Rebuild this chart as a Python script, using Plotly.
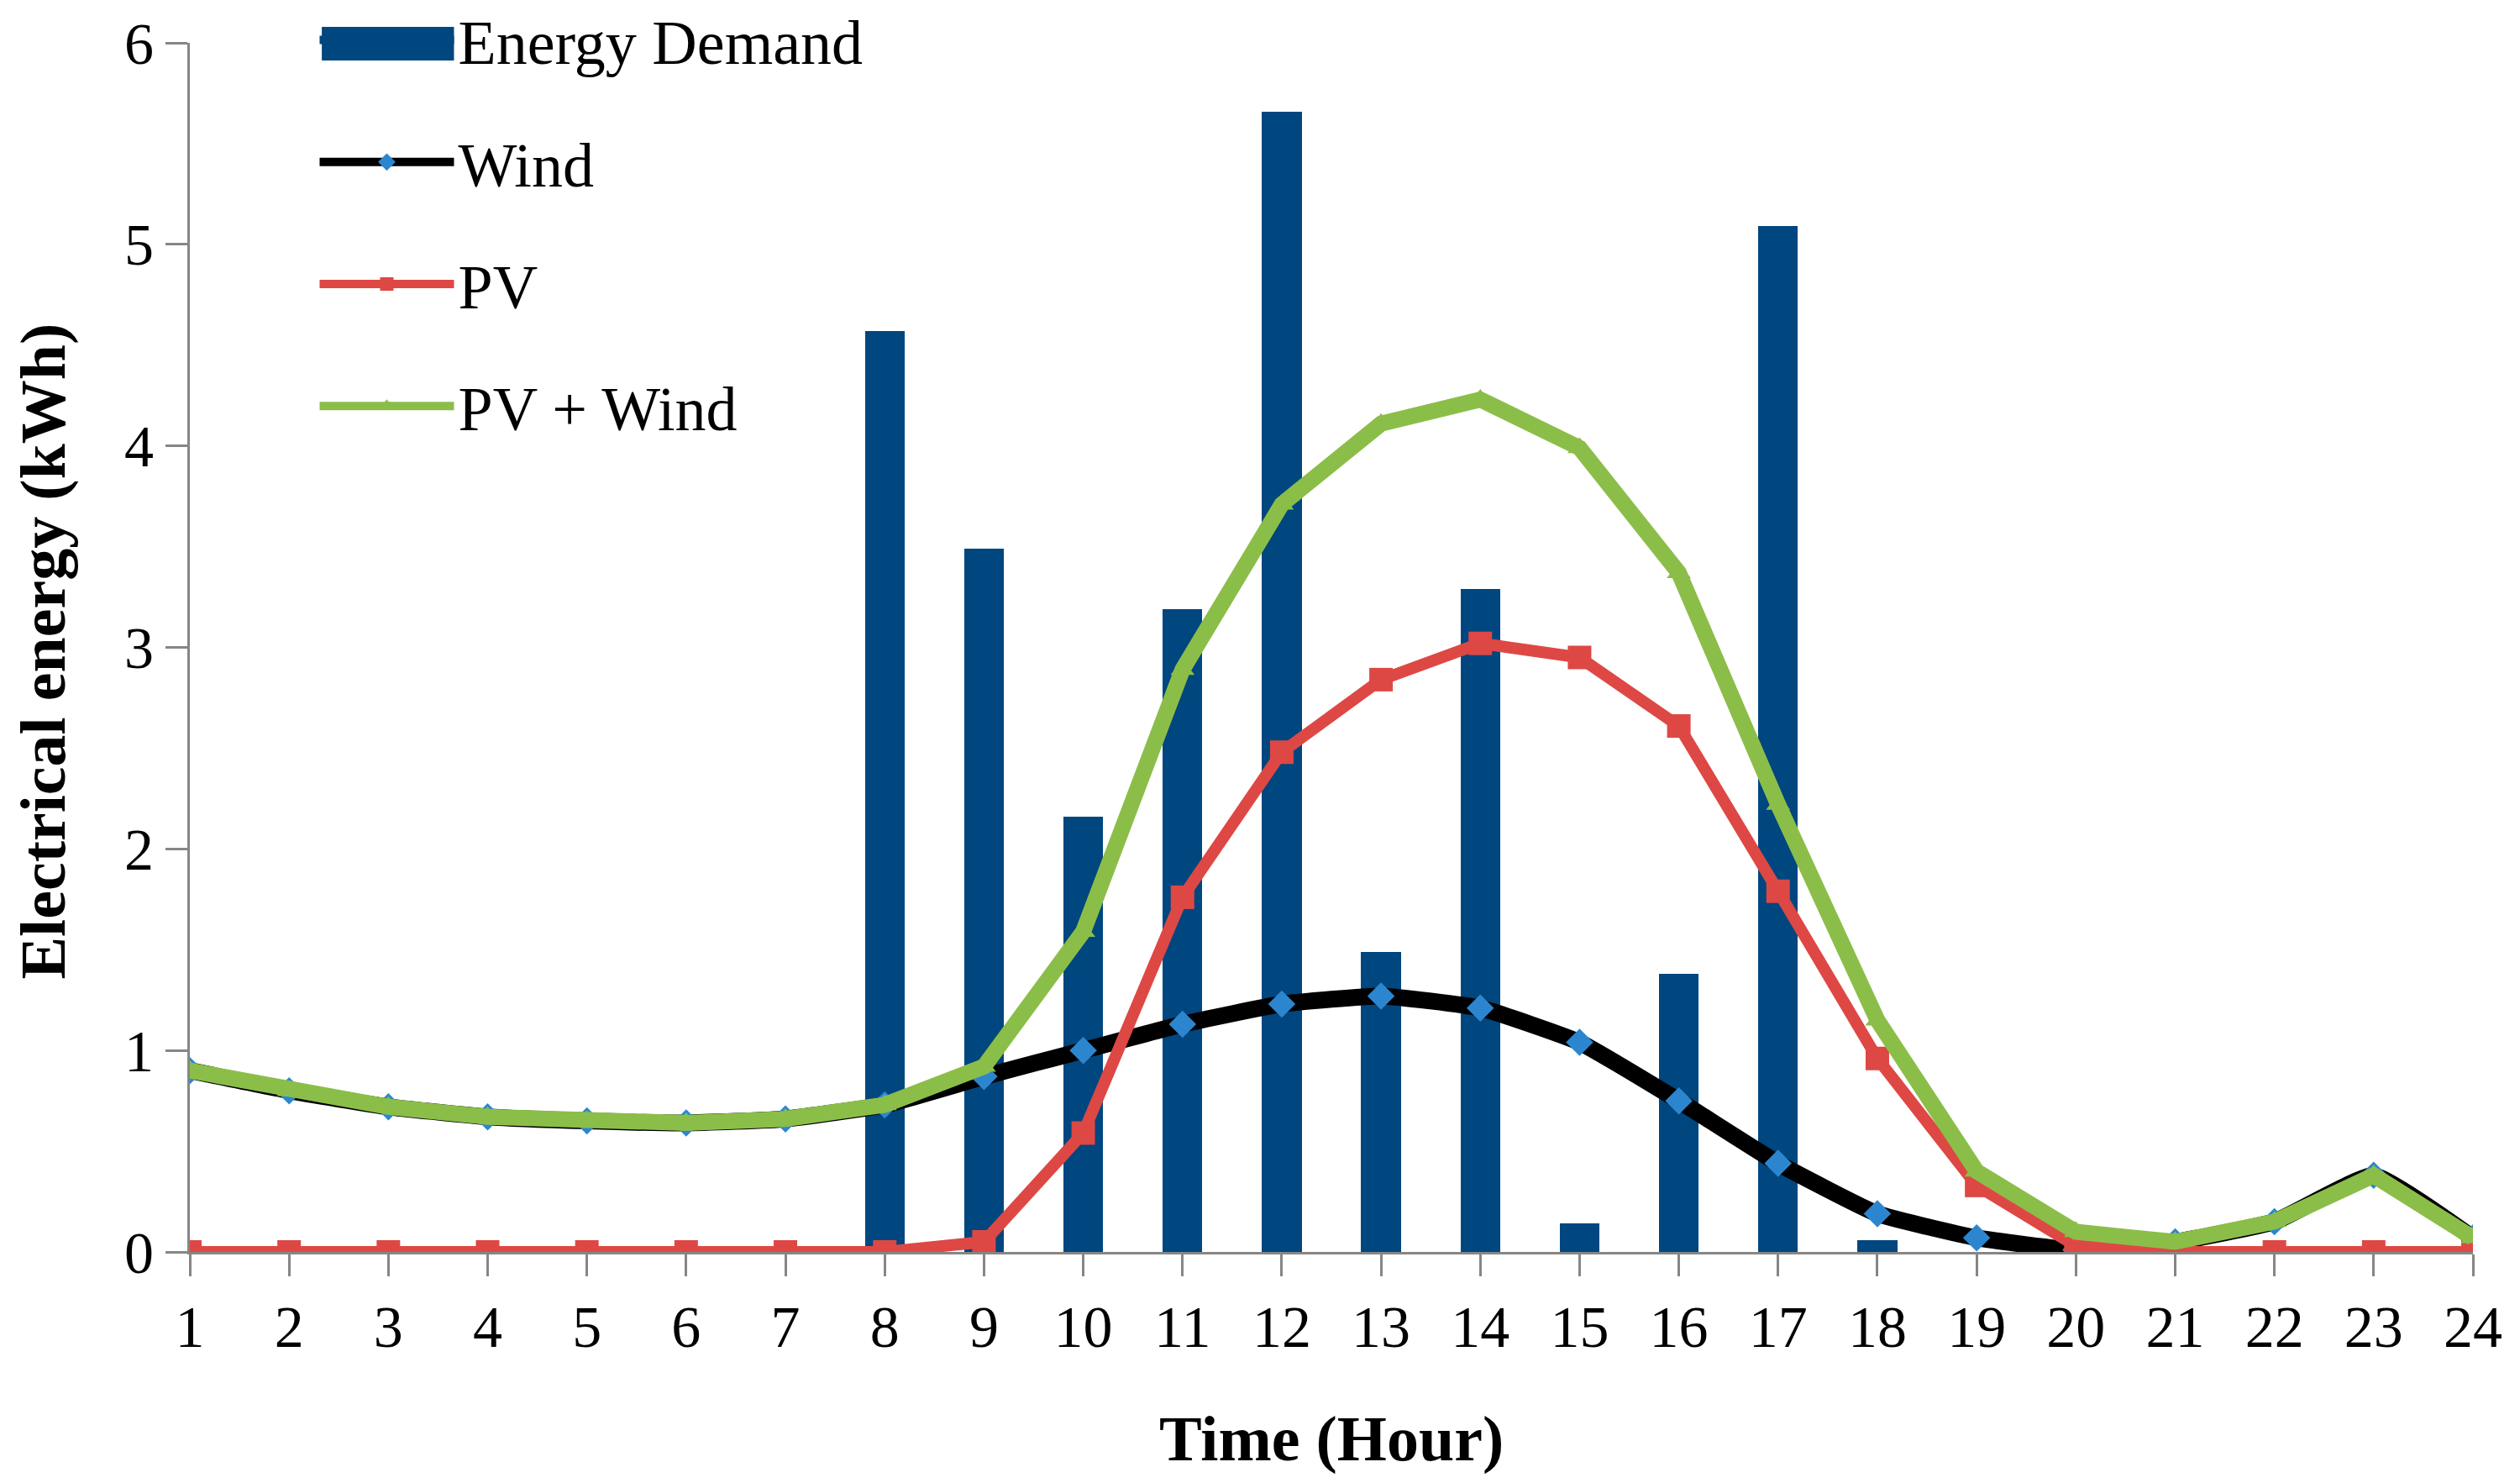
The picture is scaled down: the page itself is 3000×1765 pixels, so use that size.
import plotly.graph_objects as go

hours = list(range(1, 25))
x_tick_labels = [str(h) for h in hours]

energy_demand = [0, 0, 0, 0, 0, 0, 0, 4.57, 3.49, 2.16, 3.19, 5.66,
                 1.49, 3.29, 0.14, 1.38, 5.09, 0.06, 0, 0, 0, 0, 0, 0]
wind = [0.90, 0.80, 0.72, 0.67, 0.65, 0.64, 0.66, 0.73, 0.87, 1.00, 1.13, 1.23,
        1.27, 1.21, 1.04, 0.75, 0.44, 0.19, 0.07, 0.01, 0.05, 0.15, 0.38, 0.07]
pv = [0, 0, 0, 0, 0, 0, 0, 0, 0.05, 0.59, 1.76, 2.48,
      2.84, 3.02, 2.95, 2.61, 1.79, 0.96, 0.33, 0.03, 0, 0, 0, 0]
pv_wind = [0.90, 0.80, 0.72, 0.67, 0.65, 0.64, 0.66, 0.73, 0.92, 1.59, 2.89, 3.71,
           4.11, 4.23, 3.99, 3.37, 2.22, 1.15, 0.40, 0.10, 0.05, 0.15, 0.38, 0.07]
y_ticks = [0, 1, 2, 3, 4, 5, 6]

FONT = "Liberation Serif"
BAR_C = "#00467F"
RED = "#DE4844"
GREEN = "#8BBE48"
DIAMOND = "#2C86CF"
AXIS_C = "#868686"

fig = go.Figure()
fig.add_trace(go.Bar(x=hours, y=energy_demand, width=0.4, name="Energy Demand",
                     marker=dict(color=BAR_C, line=dict(width=0)),
                     showlegend=False))
# legend entry for the bars
fig.add_trace(go.Scatter(x=[None], y=[None], name="Energy Demand", mode="lines",
                         line=dict(color=BAR_C, width=10), legendgroup="a"))
fig.add_trace(go.Scatter(x=hours, y=wind, name="Wind", mode="lines+markers",
                         line=dict(color="black", width=20, shape="spline", smoothing=0.4),
                         marker=dict(symbol="diamond", size=25, color=DIAMOND),
                         legendgroup="b"))
fig.add_trace(go.Scatter(x=hours, y=pv, name="PV", mode="lines+markers",
                         line=dict(color=RED, width=14),
                         marker=dict(symbol="square", size=28, color=RED),
                         legendgroup="c"))
fig.add_trace(go.Scatter(x=hours, y=pv_wind, name="PV + Wind", mode="lines+markers",
                         line=dict(color=GREEN, width=19),
                         marker=dict(symbol="triangle-up", size=25, color=GREEN),
                         legendgroup="d"))

fig.update_layout(
    width=2984, height=1749,
    margin=dict(l=218, r=48, t=43, b=267, pad=0, autoexpand=False),
    paper_bgcolor="white", plot_bgcolor="white",
    font=dict(family=FONT, size=70, color="black"),
    showlegend=True,
    legend=dict(x=0.055, y=1.0403, xanchor="left", yanchor="top",
                font=dict(family=FONT, size=74, color="black"),
                bgcolor="rgba(0,0,0,0)", tracegroupgap=46, itemwidth=160,
                traceorder="grouped"),
    xaxis=dict(range=[1, 24], tickmode="array", tickvals=hours, ticktext=x_tick_labels,
               showgrid=False, zeroline=False, showline=True, linecolor=AXIS_C, linewidth=3,
               ticks="outside", ticklen=26, tickwidth=3, tickcolor=AXIS_C,
               tickfont=dict(family=FONT, size=70, color="black")),
    yaxis=dict(range=[0, 6], tickmode="array", tickvals=y_ticks,
               showgrid=False, zeroline=False, showline=True, linecolor=AXIS_C, linewidth=3,
               ticks="outside", ticklen=26, tickwidth=3, tickcolor=AXIS_C,
               tickfont=dict(family=FONT, size=70, color="black")),
    bargap=0,
    shapes=[
        # block key of the "Energy Demand" legend entry
        dict(type="rect", xref="paper", yref="paper", x0=0.0578, x1=0.1157,
             y0=0.9854, y1=1.0132, fillcolor=BAR_C, line=dict(width=0), layer="above"),
    ],
    annotations=[
        dict(text="<b>Time (Hour)</b>", xref="paper", yref="paper", x=0.5, y=-0.1543,
             xanchor="center", yanchor="middle", showarrow=False,
             font=dict(family=FONT, size=76, color="black")),
        dict(text="<b>Electrical energy (kWh)</b>", xref="paper", yref="paper", x=-0.0641, y=0.497,
             xanchor="center", yanchor="middle", textangle=-90, showarrow=False,
             font=dict(family=FONT, size=76, color="black")),
    ],
)

fig.write_html("out.html")
